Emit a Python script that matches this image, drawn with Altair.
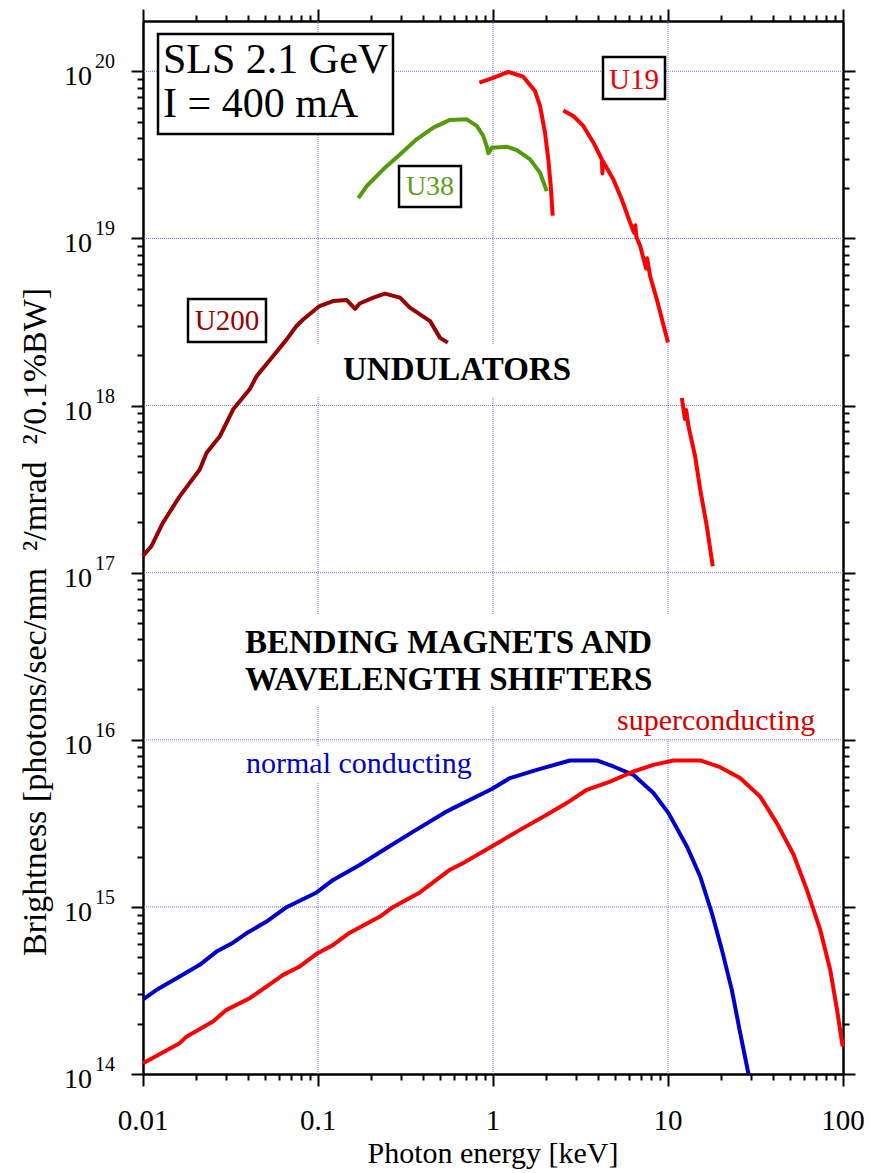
import altair as alt
import pandas as pd

# ---------------- data ----------------
u200_e = [0.0100, 0.01117, 0.0130, 0.0162, 0.0211, 0.0231, 0.0275, 0.0327, 0.0407, 0.0446,
          0.0553, 0.0661, 0.0753, 0.0822, 0.102, 0.122, 0.146, 0.163, 0.173, 0.207,
          0.241, 0.294, 0.335, 0.437, 0.498, 0.552]
u200_b = [1.26e17, 1.44e17, 1.99e17, 2.86e17, 4.14e17, 5.21e17, 6.55e17, 9.46e17, 1.25e18, 1.50e18,
          1.97e18, 2.48e18, 2.99e18, 3.27e18, 3.94e18, 4.22e18, 4.28e18, 3.79e18, 4.08e18, 4.42e18,
          4.67e18, 4.42e18, 3.85e18, 3.20e18, 2.54e18, 2.38e18]

u38_e = [0.170, 0.190, 0.236, 0.294, 0.366, 0.456, 0.568, 0.708, 0.807, 0.881,
         0.920, 0.940, 0.984, 1.197, 1.368, 1.629, 1.858, 2.028]
u38_b = [1.74e19, 2.06e19, 2.59e19, 3.18e19, 3.92e19, 4.60e19, 5.12e19, 5.16e19, 4.71e19, 4.10e19,
         3.57e19, 3.23e19, 3.49e19, 3.54e19, 3.38e19, 2.97e19, 2.47e19, 1.92e19]

u19a_e = [0.836, 0.984, 1.225, 1.489, 1.738, 1.858, 1.982, 2.070, 2.138, 2.193]
u19a_b = [8.55e19, 9.08e19, 9.91e19, 9.29e19, 7.62e19, 6.19e19, 4.30e19, 2.97e19, 2.06e19, 1.37e19]

u19b_e = [2.523, 2.877, 3.281, 3.750, 4.188, 4.22, 4.25, 4.875, 5.445, 6.081,
          6.40, 6.50, 6.60, 6.934, 7.50, 7.60, 7.907, 8.630, 10.0]
u19b_b = [5.83e19, 5.40e19, 4.71e19, 3.74e19, 2.97e19, 2.45e19, 2.90e19, 2.25e19, 1.71e19, 1.24e19,
          1.08e19, 1.20e19, 1.02e19, 9.0e18, 6.6e18, 7.6e18, 5.94e18, 4.32e18, 2.38e18]

u19c_e = [12.0, 12.5, 12.7, 13.09, 14.29, 15.28, 16.67, 18.03]
u19c_b = [1.11e18, 8.3e17, 9.4e17, 7.52e17, 4.97e17, 3.14e17, 1.89e17, 1.09e17]

nc_e = [0.0100, 0.01191, 0.0162, 0.0211, 0.0263, 0.0327, 0.0390, 0.0508, 0.0661, 0.0982,
        0.122, 0.173, 0.247, 0.350, 0.543, 0.593, 0.984, 1.250, 1.778, 2.754,
        3.917, 4.875, 6.339, 8.260, 10.07, 12.82, 15.28, 17.82, 20.32, 23.17,
        25.88, 28.84]
nc_b = [2.80e14, 3.18e14, 3.83e14, 4.50e14, 5.40e14, 6.11e14, 6.95e14, 8.17e14, 9.95e14, 1.22e15,
        1.45e15, 1.78e15, 2.25e15, 2.82e15, 3.72e15, 3.90e15, 5.07e15, 5.90e15, 6.61e15, 7.52e15,
        7.52e15, 6.92e15, 6.17e15, 4.80e15, 3.64e15, 2.30e15, 1.52e15, 9.16e14, 5.53e14, 3.18e14,
        1.75e14, 1.00e14]

sc_e = [0.0100, 0.0162, 0.0177, 0.0251, 0.0300, 0.0407, 0.0508, 0.0632, 0.0787, 0.0982,
        0.122, 0.152, 0.226, 0.269, 0.382, 0.568, 0.676, 0.984, 1.426, 2.028,
        2.636, 3.436, 4.667, 6.339, 8.260, 10.74, 15.28, 19.86, 25.82, 33.65,
        41.88, 52.24, 62.23, 74.13, 84.53, 92.47, 99.54]
sc_b = [1.16e14, 1.53e14, 1.67e14, 2.06e14, 2.42e14, 2.84e14, 3.33e14, 3.92e14, 4.40e14, 5.24e14,
        5.92e14, 7.01e14, 8.75e14, 1.00e15, 1.22e15, 1.67e15, 1.83e15, 2.30e15, 2.89e15, 3.56e15,
        4.18e15, 5.02e15, 5.62e15, 6.46e15, 7.08e15, 7.52e15, 7.52e15, 6.85e15, 5.90e15, 4.57e15,
        3.17e15, 2.05e15, 1.26e15, 7.28e14, 4.20e14, 2.42e14, 1.46e14]

seg_names = ["U200", "U38", "U19a", "U19b", "U19c", "normal", "super"]
seg_colors = ["#990000", "#559a0c", "#ff0000", "#ff0000", "#ff0000", "#0000cc", "#ff0000"]

x_label_vals = [0.01, 0.1, 1, 10, 100]
x_label_text = ["0.01", "0.1", "1", "10", "100"]
y_label_vals = [1e14, 1e15, 1e16, 1e17, 1e18, 1e19, 1e20]
y_label_exp = ["14", "15", "16", "17", "18", "19", "20"]
x_grid = [0.1, 1, 10]
y_grid = [1e15, 1e16, 1e17, 1e18, 1e19, 1e20]

# ---------------- build ----------------
rows = []
for name, es, bs in [("U200", u200_e, u200_b), ("U38", u38_e, u38_b), ("U19a", u19a_e, u19a_b),
                     ("U19b", u19b_e, u19b_b), ("U19c", u19c_e, u19c_b),
                     ("normal", nc_e, nc_b), ("super", sc_e, sc_b)]:
    for e, b in zip(es, bs):
        rows.append({"seg": name, "E": e, "B": b})
df = pd.DataFrame(rows)

FONT = "Liberation Serif"
xs = alt.Scale(type="log", domain=[0.01, 100], nice=False)
ys = alt.Scale(type="log", domain=[1e14, 2e20], nice=False)

x_ticks = [round(k * 10.0 ** n, 6) for n in range(-2, 2) for k in range(1, 10)] + [100]
y_ticks = [k * 10.0 ** n for n in range(14, 20) for k in range(1, 10)] + [1e20]
MAJOR = "abs(log(datum.value)/LN10 - round(log(datum.value)/LN10)) < 0.001"


def frame_axis(orient, values):
    return alt.Axis(orient=orient, values=values, labels=False, grid=False, title=None,
                    domain=True, domainColor="black", domainWidth=2.5,
                    ticks=True, tickColor="black", tickWidth=2,
                    tickSize={"condition": {"test": MAJOR, "value": 12}, "value": 6})


GRID = dict(color="#7474ff", strokeDash=[1, 1], strokeWidth=1)
one = pd.DataFrame({"a": [0]})

vgrid = alt.Chart(pd.DataFrame({"E": x_grid})).mark_rule(**GRID).encode(
    x=alt.X("E:Q", scale=xs, axis=frame_axis("top", x_ticks)))
hgrid = alt.Chart(pd.DataFrame({"B": y_grid})).mark_rule(**GRID).encode(
    y=alt.Y("B:Q", scale=ys, axis=frame_axis("right", y_ticks)))


def box(x0, x1, y0, y1, stroke=True):
    kw = dict(fill="white")
    if stroke:
        kw.update(stroke="black", strokeWidth=2.5)
    return alt.Chart(one).mark_rect(**kw).encode(
        x=alt.value(x0), x2=alt.value(x1), y=alt.value(y0), y2=alt.value(y1))


def label(txt, x, y, size, color="black", align="left", bold=False, angle=None):
    kw = dict(text=txt, font=FONT, fontSize=size, color=color, align=align,
              baseline="alphabetic", fontWeight="bold" if bold else "normal")
    if angle is not None:
        kw["angle"] = angle
    return alt.Chart(one).mark_text(**kw).encode(x=alt.value(x), y=alt.value(y))


curves = alt.Chart(df).mark_line(strokeWidth=4, strokeJoin="round").encode(
    x=alt.X("E:Q", scale=xs, axis=frame_axis("bottom", x_ticks)),
    y=alt.Y("B:Q", scale=ys, axis=frame_axis("left", y_ticks)),
    color=alt.Color("seg:N", scale=alt.Scale(domain=seg_names, range=seg_colors), legend=None),
    detail="seg:N",
)

xlab = alt.Chart(pd.DataFrame({"E": x_label_vals, "t": x_label_text})).mark_text(
    font=FONT, fontSize=29, align="center", baseline="alphabetic", color="black").encode(
    x=alt.X("E:Q", scale=xs, axis=None), y=alt.value(1109), text="t:N")
ylab10 = alt.Chart(pd.DataFrame({"B": y_label_vals})).mark_text(
    text="10", font=FONT, fontSize=28, align="right", baseline="alphabetic", dy=14, color="black").encode(
    y=alt.Y("B:Q", scale=ys, axis=None), x=alt.value(-51))
ylabexp = alt.Chart(pd.DataFrame({"B": y_label_vals, "t": y_label_exp})).mark_text(
    font=FONT, fontSize=20, align="left", baseline="alphabetic", dy=-3, color="black").encode(
    y=alt.Y("B:Q", scale=ys, axis=None), x=alt.value(-48), text="t:N")

layers = [
    vgrid, hgrid,
    box(147, 457, 324, 376, stroke=False),      # UNDULATORS background
    box(92, 537, 594, 686, stroke=False),       # BENDING ... background
    box(97, 342, 726, 762, stroke=False),       # normal conducting background
    box(467, 687, 686, 717, stroke=False),      # superconducting background
    box(15, 250, 13, 113),                      # SLS box
    box(256, 318, 145, 186),                    # U38 box
    box(460, 522, 36, 78),                      # U19 box
    box(45, 123, 278, 321),                     # U200 box
    curves,
    label("SLS 2.1 GeV", 20, 52, 42),
    label("I = 400 mA", 20, 96, 42),
    label("U38", 287, 174, 28, color="#5f9f18", align="center"),
    label("U19", 491, 68, 29, color="#ee0000", align="center"),
    label("U200", 84, 309, 29, color="#990000", align="center"),
    label("UNDULATORS", 200, 359, 33, bold=True),
    label("BENDING MAGNETS AND", 102, 632, 33, bold=True),
    label("WAVELENGTH SHIFTERS", 102, 669, 33, bold=True),
    label("normal conducting", 103, 752, 30, color="#0000cc"),
    label("superconducting", 474, 709, 30, color="#d80000"),
    label("Photon energy [keV]", 350, 1142, 30, align="center"),
    label("Brightness [photons/sec/mm\u2002\u00b2/mrad\u2002\u00b2/0.1%BW]", -97, 601, 34,
          align="center", angle=270),
    xlab, ylab10, ylabexp,
]

chart = alt.layer(*layers).resolve_axis(x="independent", y="independent").properties(
    width=700, height=1053,
    padding={"left": 143, "top": 21, "right": 27, "bottom": 99},
    autosize=alt.AutoSizeParams(type="none"),
    background="white",
).configure_view(stroke=None)

chart.save("out.html", embed_options={"renderer": "svg", "actions": False})
